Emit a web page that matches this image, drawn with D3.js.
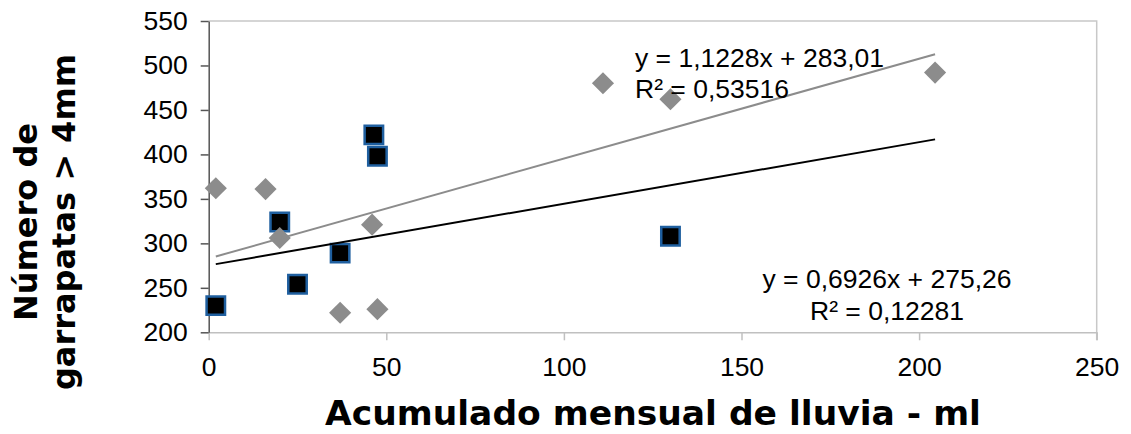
<!DOCTYPE html>
<html>
<head>
    <meta charset="utf-8">
    <title>Garrapatas vs lluvia</title>
    <script src="https://d3js.org/d3.v7.min.js"></script>
    <style>
        body { margin: 0; background: #fff; }
        text { font-family: "Liberation Sans", Arial, sans-serif; }
        .title { font-family: "DejaVu Sans", Verdana, sans-serif; font-weight: bold; }
    </style>
</head>
<body>
    <div id="chart"></div>
    <script>
        // datos
        var diamondX = [2, 16, 20, 37, 46, 47.5, 111, 130, 204.5];
        var diamondY = [362, 361, 306, 222, 321, 226, 480, 462, 492];
        var squareX = [2, 20, 25, 37, 46.5, 47.5, 130];
        var squareY = [230, 324, 254, 289, 422, 398, 308];
        // lineas de tendencia: [pendiente, intercepto]
        var trendGray = [1.1228, 283.01];
        var trendBlack = [0.6926, 275.26];
        var eqGray = ["y = 1,1228x + 283,01", "R² = 0,53516"];
        var eqBlack = ["y = 0,6926x + 275,26", "R² = 0,12281"];
        var xTicks = [0, 50, 100, 150, 200, 250];
        var yTicks = [200, 250, 300, 350, 400, 450, 500, 550];

        var W = 1131, H = 434;
        var fs = "26.5px";
        var svg = d3.select("#chart")
            .append("svg")
            .attr("width", W)
            .attr("height", H);

        var x = d3.scaleLinear().domain([0, 250]).range([208.7, 1096.7]);
        var y = d3.scaleLinear().domain([200, 550]).range([332.3, 21]);

        // borde superior y derecho
        svg.append("path")
            .attr("d", "M" + x(0) + "," + y(550) + "H" + x(250) + "V" + (y(200) + 8))
            .attr("fill", "none")
            .attr("stroke", "#c8c8c8")
            .attr("stroke-width", 1.5);

        // eje x
        var gx = svg.append("g")
            .attr("transform", "translate(0," + y(200) + ")")
            .call(d3.axisBottom(x).tickValues(xTicks).tickSize(8).tickPadding(17).tickSizeOuter(0));
        gx.select(".domain").attr("stroke", "#c0c0c0").attr("stroke-width", 1.5);
        gx.selectAll(".tick line").attr("stroke", "#c0c0c0").attr("stroke-width", 1.5);
        gx.selectAll(".tick text")
            .style("font-size", fs)
            .style("font-family", "'Liberation Sans', Arial, sans-serif")
            .attr("fill", "#000");

        // eje y
        var gy = svg.append("g")
            .attr("transform", "translate(" + x(0) + ",0)")
            .call(d3.axisLeft(y).tickValues(yTicks).tickSize(8).tickPadding(13).tickSizeOuter(0));
        gy.select(".domain").attr("stroke", "#555").attr("stroke-width", 1.5);
        gy.selectAll(".tick line").attr("stroke", "#555").attr("stroke-width", 1.5);
        gy.selectAll(".tick text")
            .style("font-size", fs)
            .style("font-family", "'Liberation Sans', Arial, sans-serif")
            .attr("fill", "#000");

        // puntos cuadrados
        var sq = d3.symbol().type(d3.symbolSquare).size(340);
        svg.append("g").selectAll("path")
            .data(d3.range(squareX.length))
            .enter()
            .append("path")
            .attr("d", sq)
            .attr("transform", function(i) { return "translate(" + x(squareX[i]) + "," + y(squareY[i]) + ")"; })
            .attr("fill", "#000")
            .attr("stroke", "#1f5f9f")
            .attr("stroke-width", 2.5);

        // puntos rombo
        var dm = d3.symbol().type(d3.symbolSquare).size(245);
        svg.append("g").selectAll("path")
            .data(d3.range(diamondX.length))
            .enter()
            .append("path")
            .attr("d", dm)
            .attr("transform", function(i) { return "translate(" + x(diamondX[i]) + "," + y(diamondY[i]) + ") rotate(45)"; })
            .attr("fill", "#8c8c8c");

        // tendencias
        var ext = d3.extent(diamondX.concat(squareX));
        function trend(c, color) {
            svg.append("line")
                .attr("x1", x(ext[0])).attr("y1", y(c[0] * ext[0] + c[1]))
                .attr("x2", x(ext[1])).attr("y2", y(c[0] * ext[1] + c[1]))
                .attr("stroke", color)
                .attr("stroke-width", 2);
        }
        trend(trendGray, "#8c8c8c");
        trend(trendBlack, "#000");

        // ecuaciones
        svg.append("g").selectAll("text")
            .data(eqGray).enter().append("text")
            .attr("x", 635)
            .attr("y", function(d, i) { return 66.5 + i * 31.7; })
            .style("font-size", fs)
            .text(function(d) { return d; });
        svg.append("g").selectAll("text")
            .data(eqBlack).enter().append("text")
            .attr("x", 887)
            .attr("y", function(d, i) { return 287.5 + i * 32.5; })
            .attr("text-anchor", "middle")
            .style("font-size", fs)
            .text(function(d) { return d; });

        // titulos
        svg.append("text")
            .attr("class", "title")
            .attr("x", 653)
            .attr("y", 425)
            .attr("text-anchor", "middle")
            .style("font-size", "34.5px")
            .text("Acumulado mensual de lluvia - ml");

        var yt = svg.append("text")
            .attr("class", "title")
            .attr("transform", "translate(0,222) rotate(-90)")
            .attr("text-anchor", "middle")
            .style("font-size", "32px");
        yt.append("tspan").attr("x", 0).attr("y", 37).text("Número de");
        yt.append("tspan").attr("x", 0).attr("y", 75).text("garrapatas > 4mm");
    </script>
</body>
</html>
